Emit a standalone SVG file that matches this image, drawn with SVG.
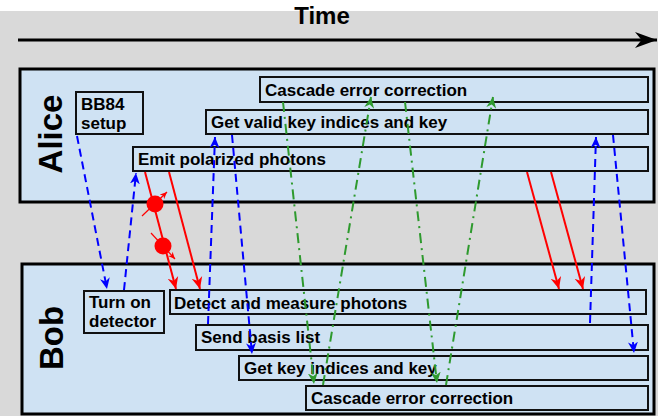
<svg xmlns="http://www.w3.org/2000/svg" width="658" height="416" viewBox="0 0 658 416">
<style>
.lbl{font-family:"Liberation Sans",Arial,sans-serif;font-weight:bold;font-size:17px;fill:#000}
.big{font-family:"Liberation Sans",Arial,sans-serif;font-weight:bold;font-size:33px;fill:#000}
.lane{fill:#cfe2f3;stroke:#000;stroke-width:3}
.box{fill:#cfe2f3;stroke:#111;stroke-width:2}
.blue{fill:none;stroke:#0000ff;stroke-width:2;stroke-dasharray:8,5;marker-end:url(#ab)}
.red{fill:none;stroke:#ff0000;stroke-width:2;marker-end:url(#ar)}
.green{fill:none;stroke:#2e9a2e;stroke-width:2;stroke-dasharray:10,5,2,5;marker-end:url(#ag)}
.pol{fill:none;stroke:#ff0000;stroke-width:1.2;marker-end:url(#ars)}
</style>
<defs>
<marker id="ab" viewBox="0 0 10 10" refX="10" refY="5" markerWidth="11" markerHeight="11" markerUnits="userSpaceOnUse" orient="auto"><path d="M0,0.5 L10,5 L0,9.5 L3,5 z" fill="#0000ff"/></marker>
<marker id="ar" viewBox="0 0 10 10" refX="10" refY="5" markerWidth="12" markerHeight="12" markerUnits="userSpaceOnUse" orient="auto"><path d="M0,0.5 L10,5 L0,9.5 L3,5 z" fill="#ff0000"/></marker>
<marker id="ag" viewBox="0 0 10 10" refX="10" refY="5" markerWidth="11" markerHeight="11" markerUnits="userSpaceOnUse" orient="auto"><path d="M0,0.5 L10,5 L0,9.5 L3,5 z" fill="#2e9a2e"/></marker>
<marker id="ars" viewBox="0 0 10 10" refX="10" refY="5" markerWidth="7" markerHeight="7" markerUnits="userSpaceOnUse" orient="auto"><path d="M0,0.5 L10,5 L0,9.5 L3,5 z" fill="#ff0000"/></marker>
<marker id="ak" viewBox="0 0 10 10" refX="10" refY="5" markerWidth="22" markerHeight="16" markerUnits="userSpaceOnUse" orient="auto" preserveAspectRatio="none"><path d="M0,0 L10,5 L0,10 L3,5 z" fill="#000"/></marker>
</defs>
<rect x="0" y="0" width="658" height="416" fill="#ffffff"/>
<rect x="0" y="11" width="658" height="405" fill="#d9d9d9"/>
<g id="time">
<text x="322" y="24" text-anchor="middle" font-family="Liberation Sans, Arial, sans-serif" font-weight="bold" font-size="24">Time</text>
<line x1="18" y1="40" x2="657" y2="40" stroke="#000" stroke-width="3" marker-end="url(#ak)"/>
</g>
<g id="alice">
<rect class="lane" x="20" y="69" width="634" height="133"/>
<text class="big" transform="translate(62,134) rotate(-90)" text-anchor="middle">Alice</text>
</g>
<g id="bob">
<rect class="lane" x="22" y="264" width="632" height="150"/>
<text class="big" transform="translate(63,338) rotate(-90)" text-anchor="middle">Bob</text>
</g>
<g id="a-bb84"><rect class="box" x="76" y="92" width="67" height="42"/><text class="lbl" x="81" y="110">BB84</text><text class="lbl" x="81" y="129">setup</text></g>
<g id="a-cascade"><rect class="box" x="260" y="77" width="388" height="25"/><text class="lbl" x="265" y="96">Cascade error correction</text></g>
<g id="a-getvalid"><rect class="box" x="206" y="110" width="442" height="24"/><text class="lbl" x="211" y="128">Get valid key indices and key</text></g>
<g id="a-emit"><rect class="box" x="133" y="147" width="515" height="24"/><text class="lbl" x="138" y="165">Emit polarized photons</text></g>
<g id="b-turnon"><rect class="box" x="84" y="291" width="80" height="42"/><text class="lbl" x="89" y="308">Turn on</text><text class="lbl" x="89" y="327">detector</text></g>
<g id="b-detect"><rect class="box" x="170" y="290" width="476" height="24"/><text class="lbl" x="174" y="309">Detect and measure photons</text></g>
<g id="b-send"><rect class="box" x="196" y="325" width="452" height="25"/><text class="lbl" x="201" y="343">Send basis list</text></g>
<g id="b-getkey"><rect class="box" x="239" y="356" width="409" height="24"/><text class="lbl" x="244" y="374">Get key indices and key</text></g>
<g id="b-cascade"><rect class="box" x="306" y="386" width="342" height="24"/><text class="lbl" x="311" y="404">Cascade error correction</text></g>
<g id="connectors">
<path class="blue" d="M77,136 L107,289"/>
<path class="blue" d="M124,290 L136,173"/>
<path class="blue" d="M208,324 L215,137"/>
<path class="blue" d="M232,135 L252,354"/>
<path class="blue" d="M590,323 L596,137"/>
<path class="blue" d="M613,135 L634,353"/>
<path class="red" d="M145,172 L176,289"/>
<path class="red" d="M169,172 L200,289"/>
<path class="red" d="M527,172 L559,289"/>
<path class="red" d="M551,172 L583,289"/>
<circle cx="155" cy="204" r="8.5" fill="#ff0000"/>
<circle cx="163" cy="246" r="8.5" fill="#ff0000"/>
<path class="pol" d="M142,216 L167,192"/>
<path class="pol" d="M151,233 L175,259"/>
<path class="green" d="M283,102 L314,384"/>
<path class="green" d="M323,385 L371,97"/>
<path class="green" d="M405,102 L437,383"/>
<path class="green" d="M446,385 L493,97"/>
</g>
</svg>
